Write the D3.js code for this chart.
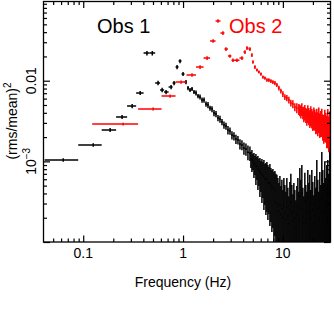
<!DOCTYPE html>
<html><head><meta charset="utf-8">
<script src="https://cdn.jsdelivr.net/npm/d3@7"></script>
<style>body{margin:0;background:#fff}svg{display:block}</style>
</head><body><svg id="c" width="334" height="314"></svg>
<script>
// ---------- DATA ----------
// Obs 1 (black): low-frequency log-binned points
const obs1BinFreq = [0.063,0.126,0.186,0.245,0.309,0.372,0.435,0.492,0.562,0.617,0.676,0.759,0.813,0.871,0.933,1.0,1.07];
const obs1BinVal  = [1.04e-3,1.60e-3,2.45e-3,3.55e-3,4.86e-3,7.04e-3,2.20e-2,2.20e-2,9.36e-3,7.67e-3,7.24e-3,8.35e-3,9.36e-3,1.48e-2,1.75e-2,1.21e-2,9.64e-3];
const obs1BinErr  = [0.05e-3,0.08e-3,0.14e-3,0.2e-3,0.3e-3,0.4e-3,1.4e-3,1.4e-3,0.6e-3,0.5e-3,0.45e-3,0.5e-3,0.55e-3,0.9e-3,1.0e-3,0.7e-3,0.6e-3];
const obs1BinFirstLo = 0.041;
// Obs 1: dense spectrum 1.1 - 4.7 Hz
const obs1MidFreq = [1.122,1.175,1.230,1.288,1.349,1.413,1.479,1.549,1.622,1.698,1.778,1.862,1.950,2.042,2.138,2.239,2.344,2.455,2.570,2.692,2.818,2.951,3.090,3.236,3.388,3.548,3.715,3.890,4.074,4.266,4.467,4.677];
const obs1MidVal  = [8.12e-3,7.67e-3,7.89e-3,7.25e-3,7.04e-3,6.46e-3,6.28e-3,5.76e-3,5.76e-3,5.14e-3,5.0e-3,4.58e-3,4.45e-3,3.98e-3,3.87e-3,3.45e-3,3.35e-3,3.08e-3,2.82e-3,2.74e-3,2.45e-3,2.38e-3,2.12e-3,2.06e-3,1.89e-3,1.84e-3,1.64e-3,1.60e-3,1.46e-3,1.42e-3,1.30e-3,1.27e-3];
const obs1MidErr  = [0.5e-3,0.45e-3,0.45e-3,0.42e-3,0.5e-3,0.38e-3,0.45e-3,0.42e-3,0.42e-3,0.37e-3,0.44e-3,0.33e-3,0.39e-3,0.35e-3,0.34e-3,0.30e-3,0.34e-3,0.27e-3,0.29e-3,0.28e-3,0.29e-3,0.24e-3,0.25e-3,0.24e-3,0.25e-3,0.22e-3,0.24e-3,0.23e-3,0.25e-3,0.25e-3,0.27e-3,0.26e-3];
// Obs 1: dense noisy spectrum 4.8 - 29.5 Hz
const obs1HiFreq = [4.786,4.898,5.012,5.129,5.248,5.370,5.495,5.623,5.754,5.888,6.026,6.166,6.310,6.457,6.607,6.761,6.918,7.079,7.244,7.413,7.586,7.762,7.943,8.128,8.318,8.511,8.710,8.913,9.120,9.333,9.550,9.772,10.00,10.23,10.47,10.72,10.96,11.22,11.48,11.75,12.02,12.30,12.59,12.88,13.18,13.49,13.80,14.13,14.45,14.79,15.14,15.49,15.85,16.22,16.60,16.98,17.38,17.78,18.20,18.62,19.05,19.50,19.95,20.42,20.89,21.38,21.88,22.39,22.91,23.44,23.99,24.55,25.12,25.70,26.30,26.92,27.54,28.18,28.84,29.51];
const obs1HiVal = [10.69e-4,10.63e-4,10.09e-4,9.47e-4,9.23e-4,8.73e-4,8.62e-4,8.05e-4,7.83e-4,7.33e-4,7.15e-4,6.88e-4,6.68e-4,6.45e-4,6.08e-4,5.86e-4,6.10e-4,5.45e-4,5.37e-4,5.43e-4,5.03e-4,4.58e-4,4.77e-4,3.3e-4,4.39e-4,3.1e-4,
  3.0e-4,2.8e-4,2.4e-4,2.9e-4,2.2e-4,2.6e-4,2.0e-4,2.8e-4,2.3e-4,1.9e-4,2.7e-4,2.1e-4,1.7e-4,2.5e-4,3.1e-4,2.3e-4,1.8e-4,2.4e-4,2.0e-4,1.5e-4,2.2e-4,2.8e-4,1.9e-4,3.7e-4,2.6e-4,4.0e-4,2.1e-4,1.7e-4,3.2e-4,2.3e-4,1.9e-4,3.5e-4,2.4e-4,3.0e-4,2.0e-4,3.5e-4,2.5e-4,1.7e-4,3.0e-4,2.1e-4,4.7e-4,2.6e-4,1.9e-4,3.3e-4,2.3e-4,5.9e-4,3.5e-4,2.4e-4,4.4e-4,2.8e-4,4.0e-4,4.7e-4,3.0e-4,6.6e-4];
const obs1HiErr = [2.40e-4,3.23e-4,2.27e-4,3.25e-4,2.45e-4,3.63e-4,2.73e-4,3.63e-4,2.88e-4,3.71e-4,2.97e-4,3.83e-4,3.16e-4,3.96e-4,3.20e-4,3.70e-4,3.74e-4,3.58e-4,3.15e-4,3.85e-4,3.26e-4,3.25e-4,3.28e-4,4.1e-4,3.21e-4,3.9e-4,
  3.8e-4,3.4e-4,3.0e-4,3.7e-4,2.75e-4,3.3e-4,2.4e-4,3.4e-4,2.8e-4,2.3e-4,3.5e-4,2.6e-4,2.0e-4,3.05e-4,3.9e-4,2.8e-4,2.1e-4,3.0e-4,2.4e-4,1.8e-4,2.75e-4,3.4e-4,2.3e-4,4.6e-4,3.3e-4,5.0e-4,2.6e-4,2.0e-4,4.0e-4,2.8e-4,2.3e-4,4.3e-4,3.0e-4,3.8e-4,2.4e-4,4.3e-4,3.05e-4,2.1e-4,3.6e-4,2.6e-4,5.7e-4,3.3e-4,2.3e-4,4.1e-4,2.8e-4,7.2e-4,4.3e-4,3.0e-4,5.4e-4,3.4e-4,5.0e-4,5.7e-4,3.8e-4,8.1e-4];

// Obs 2 (red): binned points
const obs2BinFreq = [0.251,0.501,0.741,0.955,1.23,1.48,1.74,2.0,2.24,2.51,2.69,2.95,3.16,3.47,3.89,4.17,4.37,4.68,4.90,5.01,5.25];
const obs2BinVal  = [2.90e-3,4.46e-3,6.46e-3,9.63e-3,1.18e-2,1.48e-2,1.91e-2,3.11e-2,5.50e-2,3.90e-2,2.47e-2,2.02e-2,1.80e-2,1.80e-2,1.91e-2,2.27e-2,2.54e-2,2.47e-2,2.08e-2,1.71e-2,1.48e-2];
const obs2BinErr  = [0.12e-3,0.2e-3,0.3e-3,0.45e-3,0.6e-3,0.8e-3,1.0e-3,1.6e-3,2.8e-3,2.0e-3,1.3e-3,1.0e-3,0.9e-3,0.9e-3,1.0e-3,1.2e-3,1.3e-3,1.3e-3,1.1e-3,0.9e-3,0.8e-3];
const obs2BinFirstLo = 0.123;
// Obs 2: dense spectrum 5.5 - 14.5 Hz
const obs2MidFreq = [5.50,5.75,6.03,6.31,6.61,6.92,7.24,7.59,7.94,8.32,8.71,9.12,9.55,10.0,10.47,10.96,11.48,12.02,12.59,13.18,13.80,14.45];
const obs2MidVal  = [1.36e-2,1.28e-2,1.21e-2,1.11e-2,1.08e-2,1.02e-2,1.02e-2,9.9e-3,9.63e-3,9.36e-3,8.85e-3,8.12e-3,7.45e-3,6.84e-3,6.28e-3,6.10e-3,5.76e-3,5.29e-3,5.14e-3,4.72e-3,4.59e-3,4.46e-3];
const obs2MidErr  = [0.6e-3,0.55e-3,0.55e-3,0.5e-3,0.5e-3,0.5e-3,0.55e-3,0.5e-3,0.5e-3,0.55e-3,0.5e-3,0.55e-3,0.5e-3,0.55e-3,0.5e-3,0.55e-3,0.55e-3,0.5e-3,0.6e-3,0.55e-3,0.65e-3,0.7e-3];
// Obs 2: dense noisy spectrum 14.8 - 29.5 Hz
const obs2HiFreq = [14.79,15.14,15.49,15.85,16.22,16.60,16.98,17.38,17.78,18.20,18.62,19.05,19.50,19.95,20.42,20.89,21.38,21.88,22.39,22.91,23.44,23.99,24.55,25.12,25.70,26.30,26.92,27.54,28.18,28.84,29.51];
const obs2HiVal  = [4.33e-3,4.15e-3,4.46e-3,4.02e-3,3.90e-3,4.10e-3,3.80e-3,3.62e-3,3.98e-3,3.70e-3,3.45e-3,3.76e-3,3.50e-3,3.28e-3,3.55e-3,3.40e-3,3.12e-3,3.35e-3,3.05e-3,3.45e-3,2.95e-3,3.10e-3,3.25e-3,2.80e-3,2.70e-3,3.05e-3,2.85e-3,2.55e-3,2.95e-3,2.45e-3,2.80e-3];
const obs2HiErr  = [0.7e-3,0.75e-3,0.8e-3,0.7e-3,0.85e-3,0.9e-3,0.8e-3,0.85e-3,1.0e-3,0.9e-3,0.85e-3,1.05e-3,0.95e-3,0.9e-3,1.1e-3,1.0e-3,0.95e-3,1.15e-3,1.0e-3,1.2e-3,1.0e-3,1.1e-3,1.25e-3,1.0e-3,1.05e-3,1.3e-3,1.15e-3,1.1e-3,1.5e-3,1.15e-3,1.35e-3];

// Axis ticks
const xMajor = [0.1,1,10];
const xMajorLabels = ["0.1","1","10"];
const xMinor = [0.05,0.06,0.07,0.08,0.09,0.2,0.3,0.4,0.5,0.6,0.7,0.8,0.9,2,3,4,5,6,7,8,9,20];
const yMajor = [1e-4,1e-3,1e-2];
const yMinor = [2e-4,3e-4,4e-4,5e-4,6e-4,7e-4,8e-4,9e-4,2e-3,3e-3,4e-3,5e-3,6e-3,7e-3,8e-3,9e-3,2e-2,3e-2,4e-2,5e-2,6e-2,7e-2,8e-2,9e-2];

// ---------- CHART ----------
const svg = d3.select("#c");
const X0 = 43.5, X1 = 330.5, Y0 = 242, Y1 = 1.5;
const x = d3.scaleLog().domain([0.04, 30]).range([X0, X1]);
const y = d3.scaleLog().domain([1e-4, 0.096]).range([Y0, Y1]);
const FONT = "'Liberation Sans', Arial, Helvetica, sans-serif";

svg.append("defs").append("clipPath").attr("id","clip")
  .append("rect").attr("x",X0).attr("y",Y1).attr("width",X1-X0).attr("height",Y0-Y1);
const plot = svg.append("g").attr("clip-path","url(#clip)");

function drawSeries(freq, val, err, firstLo, color, sw) {
  const n = freq.length;
  const pts = freq.map((f,i)=>{
    const lo = i===0 ? firstLo : Math.sqrt(freq[i-1]*f);
    const hi = i===n-1 ? f*Math.sqrt(f/freq[i-1]) : Math.sqrt(f*freq[i+1]);
    return {f, v:val[i], e:err[i], lo, hi};
  });
  const g = plot.append("g").attr("stroke", color).attr("stroke-width", sw);
  g.selectAll("line.h").data(pts).join("line").attr("class","h")
    .attr("x1", d=>x(d.lo)).attr("x2", d=>x(d.hi))
    .attr("y1", d=>y(d.v)).attr("y2", d=>y(d.v));
  g.selectAll("line.v").data(pts).join("line").attr("class","v")
    .attr("x1", d=>x(d.f)).attr("x2", d=>x(d.f))
    .attr("y1", d=> d.v-d.e > 1e-4 ? y(d.v-d.e) : Y0+2)
    .attr("y2", d=>y(d.v+d.e));
}

drawSeries(obs1BinFreq.concat(obs1MidFreq, obs1HiFreq),
           obs1BinVal.concat(obs1MidVal, obs1HiVal),
           obs1BinErr.concat(obs1MidErr, obs1HiErr), obs1BinFirstLo, "#000", 1.5);
drawSeries(obs2BinFreq.concat(obs2MidFreq, obs2HiFreq),
           obs2BinVal.concat(obs2MidVal, obs2HiVal),
           obs2BinErr.concat(obs2MidErr, obs2HiErr), obs2BinFirstLo, "#ff0000", 1.5);

// axes (ticks inward on all four sides)
function ax(gen, vals, size, tr) {
  svg.append("g").attr("transform", tr)
    .call(gen.tickValues(vals).tickSize(size).tickSizeOuter(0).tickFormat(""))
    .call(g=>g.select(".domain").remove())
    .selectAll("line").attr("stroke","#000").attr("stroke-width",1.2);
}
ax(d3.axisBottom(x), xMajor, -6.5, `translate(0,${Y0})`);
ax(d3.axisBottom(x), xMinor, -3.5, `translate(0,${Y0})`);
ax(d3.axisTop(x), xMajor, -6.5, `translate(0,${Y1})`);
ax(d3.axisTop(x), xMinor, -3.5, `translate(0,${Y1})`);
ax(d3.axisLeft(y), yMajor, -6.5, `translate(${X0},0)`);
ax(d3.axisLeft(y), yMinor, -3.5, `translate(${X0},0)`);
ax(d3.axisRight(y), yMajor, -6.5, `translate(${X1},0)`);
ax(d3.axisRight(y), yMinor, -3.5, `translate(${X1},0)`);

svg.append("rect").attr("x",X0).attr("y",Y1).attr("width",X1-X0).attr("height",Y0-Y1)
  .attr("fill","none").attr("stroke","#000").attr("stroke-width",1.3);

// x tick labels
svg.selectAll("text.xl").data(xMajor).join("text").attr("class","xl")
  .attr("x", d=>x(d)).attr("y", 258).attr("text-anchor","middle")
  .attr("font-family",FONT).attr("font-size",14).text((d,i)=>xMajorLabels[i]);

// y tick labels (rotated)
svg.append("text").attr("transform",`translate(35.5,${y(1e-2)}) rotate(-90)`)
  .attr("text-anchor","middle").attr("font-family",FONT).attr("font-size",14).text("0.01");
const t3 = svg.append("text").attr("transform",`translate(35.5,${y(1e-3)}) rotate(-90)`)
  .attr("text-anchor","middle").attr("font-family",FONT).attr("font-size",14);
t3.append("tspan").text("10");
t3.append("tspan").attr("font-size",10).attr("dy",-6).text("\u22123");

// axis titles
svg.append("text").attr("x",183).attr("y",287).attr("text-anchor","middle")
  .attr("font-family",FONT).attr("font-size",14).text("Frequency (Hz)");
const yt = svg.append("text").attr("transform",`translate(17,121) rotate(-90)`)
  .attr("text-anchor","middle").attr("font-family",FONT).attr("font-size",14);
yt.append("tspan").text("(rms/mean)");
yt.append("tspan").attr("font-size",10).attr("dy",-6).text("2");

// legends
svg.append("text").attr("x",97).attr("y",33).attr("font-family",FONT).attr("font-size",20)
  .attr("fill","#000").text("Obs 1");
svg.append("text").attr("x",229).attr("y",33).attr("font-family",FONT).attr("font-size",20)
  .attr("fill","#ff0000").text("Obs 2");
</script></body></html>
